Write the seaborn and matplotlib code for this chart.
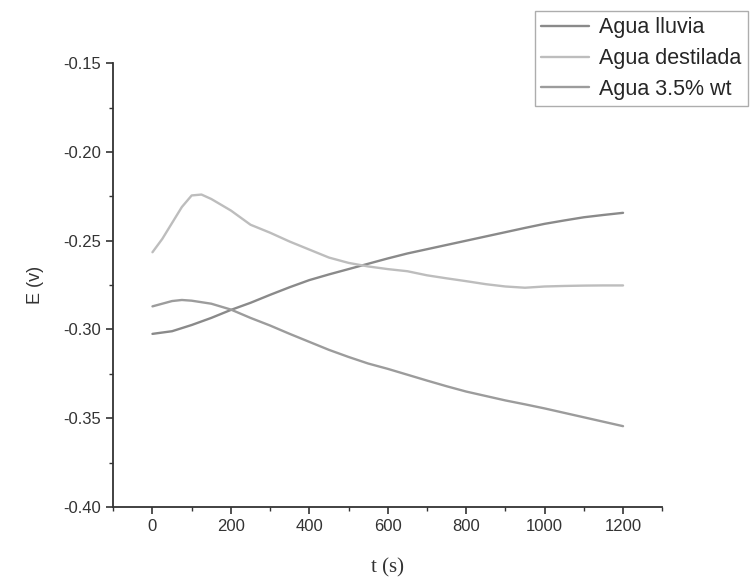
import matplotlib
matplotlib.use("Agg")
import matplotlib.pyplot as plt
from matplotlib.ticker import MultipleLocator
import seaborn as sns
import pandas as pd

# tiempo (s)
t_lluvia = [0, 50, 100, 150, 200, 250, 300, 350, 400, 450, 500, 550, 600,
            650, 700, 750, 800, 850, 900, 950, 1000, 1050, 1100, 1150, 1200]
e_lluvia = [-0.3025, -0.3010, -0.2975, -0.2935, -0.2890, -0.2850, -0.2805,
            -0.2762, -0.2722, -0.2690, -0.2660, -0.2630, -0.2600, -0.2572,
            -0.2548, -0.2524, -0.2500, -0.2476, -0.2452, -0.2428, -0.2405,
            -0.2386, -0.2368, -0.2355, -0.2343]

t_destilada = [0, 25, 50, 75, 100, 125, 150, 200, 250, 300, 350, 400, 450,
               500, 550, 600, 650, 700, 750, 800, 850, 900, 950, 1000, 1050,
               1100, 1150, 1200]
e_destilada = [-0.2565, -0.2490, -0.2400, -0.2310, -0.2245, -0.2240, -0.2265,
               -0.2330, -0.2410, -0.2455, -0.2505, -0.2550, -0.2595, -0.2625,
               -0.2645, -0.2660, -0.2672, -0.2695, -0.2712, -0.2728, -0.2745,
               -0.2758, -0.2765, -0.2758, -0.2755, -0.2753, -0.2752, -0.2752]

t_salina = [0, 25, 50, 75, 100, 150, 200, 250, 300, 350, 400, 450, 500, 550,
            600, 650, 700, 750, 800, 850, 900, 950, 1000, 1050, 1100, 1150,
            1200]
e_salina = [-0.2870, -0.2855, -0.2840, -0.2834, -0.2838, -0.2855, -0.2888,
            -0.2935, -0.2978, -0.3025, -0.3070, -0.3115, -0.3155, -0.3192,
            -0.3222, -0.3255, -0.3288, -0.3320, -0.3350, -0.3375, -0.3400,
            -0.3422, -0.3445, -0.3470, -0.3495, -0.3520, -0.3545]

series = ["Agua lluvia", "Agua destilada", "Agua 3.5% wt"]
colores = ["#8a8a8a", "#bdbdbd", "#9c9c9c"]

df = pd.concat([
    pd.DataFrame({"t": t_lluvia, "E": e_lluvia, "serie": series[0]}),
    pd.DataFrame({"t": t_destilada, "E": e_destilada, "serie": series[1]}),
    pd.DataFrame({"t": t_salina, "E": e_salina, "serie": series[2]}),
])

sns.set_style("ticks")
plt.rcParams["font.family"] = ["Liberation Sans", "DejaVu Sans"]

fig = plt.figure(figsize=(7.5, 5.8), dpi=100)
ax = fig.add_axes([0.151, 0.126, 0.732, 0.765])

sns.lineplot(
    data=df,
    x="t",
    y="E",
    hue="serie",
    hue_order=series,
    palette=colores,
    linewidth=1.7,
    ax=ax
)

ax.set_xlim(-100, 1300)
ax.set_ylim(-0.40, -0.15)
ax.xaxis.set_major_locator(MultipleLocator(200))
ax.xaxis.set_minor_locator(MultipleLocator(100))
ax.yaxis.set_major_locator(MultipleLocator(0.05))
ax.yaxis.set_minor_locator(MultipleLocator(0.025))
ax.set_xticks([0, 200, 400, 600, 800, 1000, 1200])
ax.yaxis.set_major_formatter(plt.FuncFormatter(lambda v, p: f"{v:.2f}"))

for s in ["top", "right"]:
    ax.spines[s].set_visible(False)
for s in ["left", "bottom"]:
    ax.spines[s].set_color("#333333")
    ax.spines[s].set_linewidth(1.3)

ax.tick_params(which="major", direction="out", length=5, width=1.2,
               color="#333333", labelsize=12, labelcolor="#333333")
ax.tick_params(which="minor", direction="out", length=3, width=1.0,
               color="#333333")

ax.set_ylabel("E (v)", fontsize=13, color="#333333", labelpad=14)
ax.set_xlabel("t (s)", fontsize=15, color="#333333", labelpad=18,
              family=["Liberation Serif", "DejaVu Serif"])

ax.legend(
    loc="upper right",
    bbox_to_anchor=(748 / 750, 1 - 11 / 580),
    bbox_transform=fig.transFigure,
    fontsize=15.5,
    frameon=True,
    fancybox=False,
    edgecolor="#999999",
    borderaxespad=0,
    borderpad=0.3,
    labelspacing=0.45,
    handlelength=2.2,
    handletextpad=0.5,
    title=None
)

plt.savefig("out.png", dpi=100)
plt.close()
